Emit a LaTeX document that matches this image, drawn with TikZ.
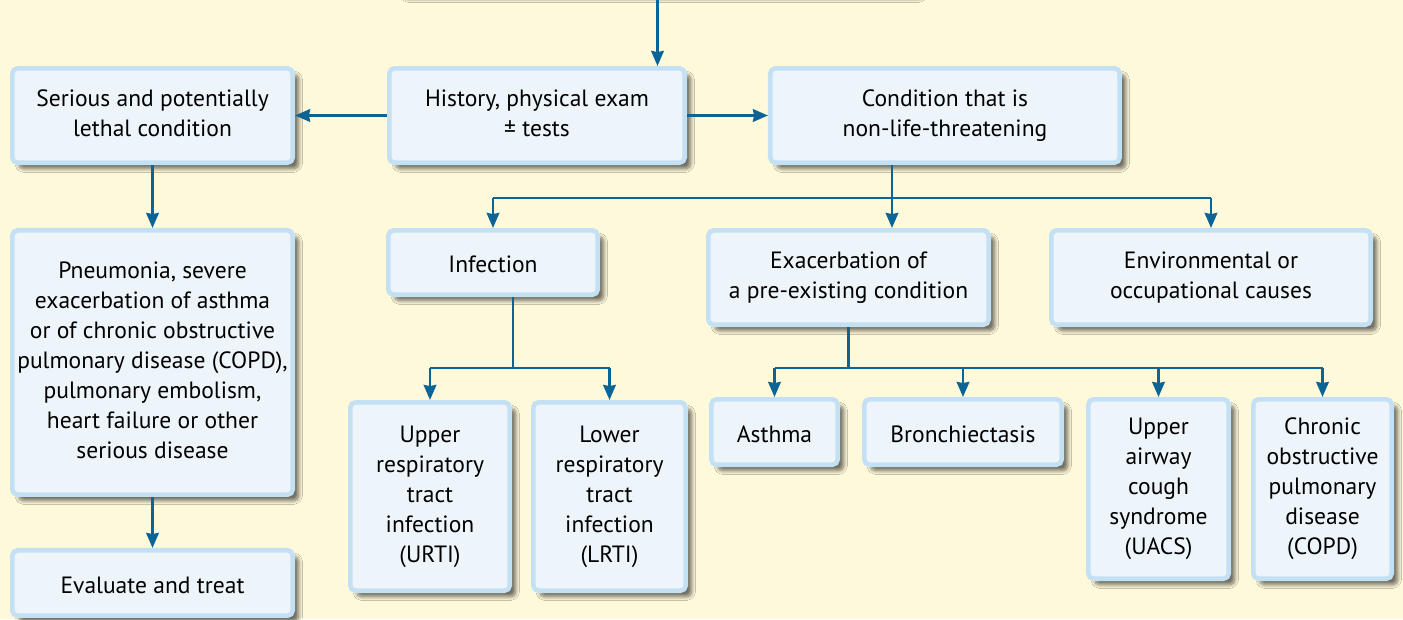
\documentclass[tikz,border=0pt]{standalone}
\usepackage{fontspec}
\setmainfont{PT Sans}
\usepackage{tikz}
\usetikzlibrary{arrows.meta, positioning, shadows.blur}
\definecolor{paper}{HTML}{FEF9DA}
\definecolor{boxfill}{HTML}{EDF5FB}
\definecolor{boxedge}{HTML}{C3E0F4}
\definecolor{flowblue}{HTML}{0A6496}
\newcommand{\boxstrut}{\rule[-2.8pt]{0pt}{17.1pt}}
\tikzset{boxsize/.style 2 args={minimum width={#1*0.02cm-2.6pt}, minimum height={#2*0.02cm-2.6pt}}}

\begin{document}
\begin{tikzpicture}[
  x=0.02cm, y=-0.02cm,
  box/.style={rectangle, rounded corners=3pt, draw=boxedge, line width=2.6pt, fill=boxfill,
              font=\fontsize{13.4}{17.1}\selectfont, align=center, inner sep=2pt,
              execute at begin node=\boxstrut, execute at end node=\boxstrut,
              blur shadow={shadow xshift=3.5pt, shadow yshift=-3.5pt, shadow blur steps=8, shadow opacity=55}},
  arrow/.style={-{Stealth[length=0.3cm, width=0.25cm, inset=0.6pt]}, line width=1.6pt, flowblue},
  link/.style={line width=1.6pt, flowblue}
]
  \fill[paper] (0,0) rectangle (1403,619);
  \useasboundingbox (0,0) rectangle (1403,619);

  % top row
  \node[box, boxsize={525}{80}, anchor=south west] (top) at (395,-5) {};
  \node[box, boxsize={300}{99}, anchor=north west] (history) at (387,66) {History, physical exam\\± tests};
  \node[box, boxsize={285}{99}, left=1.84cm of history] (serious) {Serious and potentially\\lethal condition};
  \node[box, boxsize={354}{99}, right=1.62cm of history] (condition) {Condition that is\\non-life-threatening};

  % left column
  \node[box, boxsize={285}{269}, below=1.26cm of serious] (pneumonia) {Pneumonia, severe\\exacerbation of asthma\\or of chronic obstructive\\pulmonary disease (COPD),\\pulmonary embolism,\\heart failure or other\\serious disease};
  \node[box, boxsize={285}{70}, below=1.02cm of pneumonia] (evaluate) {Evaluate and treat};

  % second row
  \node[box, boxsize={214}{69}, anchor=north west] (infection) at (386,228) {Infection};
  \node[box, boxsize={285}{99}, anchor=north west] (exacerb) at (706,228) {Exacerbation of\\a pre-existing condition};
  \node[box, boxsize={324}{99}, anchor=north west] (environ) at (1049,228) {Environmental or\\occupational causes};

  % third row
  \node[box, boxsize={164}{193}, anchor=north west] (urti) at (348,400) {Upper\\respiratory\\tract\\infection\\(URTI)};
  \node[box, boxsize={157}{193}, anchor=north west] (lrti) at (531,400) {Lower\\respiratory\\tract\\infection\\(LRTI)};
  \node[box, boxsize={131}{70}, anchor=north west] (asthma) at (709,397) {Asthma};
  \node[box, boxsize={202}{70}, anchor=north west] (bronch) at (862,397) {Bronchiectasis};
  \node[box, boxsize={145}{184}, anchor=north west] (uacs) at (1086,397) {Upper\\airway\\cough\\syndrome\\(UACS)};
  \node[box, boxsize={143}{184}, anchor=north west] (copd) at (1251,397) {Chronic\\obstructive\\pulmonary\\disease\\(COPD)};

  % connectors
  \draw[arrow] (top.south) -- (top.south |- history.north);
  \draw[arrow] (history) -- (serious);
  \draw[arrow] (history) -- (condition);
  \draw[arrow] (serious) -- (pneumonia);
  \draw[arrow] (pneumonia) -- (evaluate);

  \coordinate (split1) at (892,198);
  \draw[link] (condition.south -| split1) -- (split1);
  \draw[link] (infection.north |- split1) -- (environ.north |- split1);
  \draw[arrow] (split1) -- (exacerb.north -| split1);
  \foreach \n in {infection, environ}
    \draw[arrow] (\n.north |- split1) -- (\n.north);

  \coordinate (split2) at (513,368);
  \draw[link] (infection.south -| split2) -- (split2);
  \draw[link] (urti.north |- split2) -- (lrti.north |- split2);
  \foreach \n in {urti, lrti}
    \draw[arrow] (\n.north |- split2) -- (\n.north);

  \coordinate (split3) at (exacerb.south |- split2);
  \draw[link] (exacerb.south) -- (split3);
  \draw[link] (asthma.north |- split3) -- (copd.north |- split3);
  \foreach \n in {asthma, bronch, uacs, copd}
    \draw[arrow] (\n.north |- split3) -- (\n.north);
\end{tikzpicture}
\end{document}
